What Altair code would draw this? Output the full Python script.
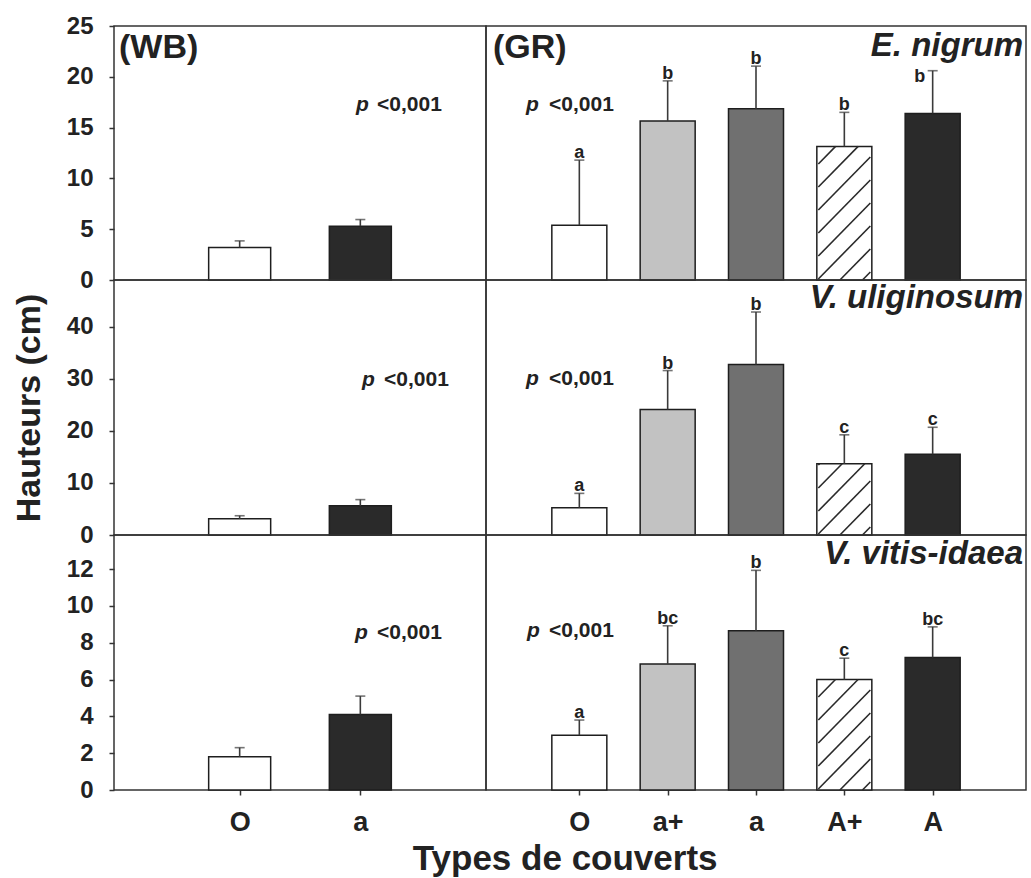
import json
import altair as alt
import pandas as pd

# ---------------- data ----------------
species = ["E. nigrum", "V. uliginosum", "V. vitis-idaea"]
wb_cats = ["O", "a"]
gr_cats = ["O", "a+", "a", "A+", "A"]

wb_mean = [[3.2, 5.3], [3.1, 5.6], [1.8, 4.1]]
wb_err = [[0.65, 0.65], [0.6, 1.2], [0.5, 1.0]]

gr_mean = [[5.4, 15.65, 16.85, 13.15, 16.4],
           [5.25, 24.1, 32.75, 13.7, 15.5],
           [2.98, 6.85, 8.65, 6.0, 7.2]]
gr_err = [[6.4, 3.95, 4.2, 3.35, 4.2],
          [2.75, 7.5, 10.1, 5.55, 5.2],
          [0.82, 2.07, 3.28, 1.16, 1.66]]
gr_letters = [["a", "b", "b", "b", "b"],
              ["a", "b", "b", "c", "c"],
              ["a", "bc", "b", "c", "bc"]]

y_max = [25, 49, 13.85]
y_ticks = [[0, 5, 10, 15, 20, 25], [0, 10, 20, 30, 40], [0, 2, 4, 6, 8, 10, 12]]
site_labels = ["(WB)", "(GR)"]
p_symbol = "p"
p_value = "<0,001"
y_title = "Hauteurs (cm)"
x_title = "Types de couverts"

# ---------------- style ----------------
FONT = "Liberation Sans"
INK = "#222222"
WB_COLORS = ["#ffffff", "#2a2a2a"]
GR_COLORS = ["#ffffff", "#c2c2c2", "#707070", "#ffffff", "#2a2a2a"]
W_LEFT, W_RIGHT = 372, 540
HEIGHTS = [254, 255, 255]
BAR_W = {"wb": 62, "gr": 55}
HATCH_CAT = "A+"
HATCH_SPACING = 23
# letter nudges (row, category index) -> (dx, dy) in pixels
LETTER_NUDGE = {(0, 4): (-13, 11)}

# annotation pixel positions inside panels
P_POS = {"wb": ([242, 248, 241], [263, 270, 263], [79, 100, 98]),
         "gr": ([40, 40, 41], [63, 63, 63], [79, 99, 96])}
SPECIES_Y = [30, 28, 29]


def hatch_df(center, half_px, px_x, px_y, value):
    w = 2 * half_px
    h = value * px_y
    rows = []
    c = -w + 8
    while c < h:
        u0 = max(0.0, -c)
        u1 = min(w, h - c)
        if u1 > u0:
            rows.append({
                "x1": center + (u0 - half_px) / px_x, "y1": (u0 + c) / px_y,
                "x2": center + (u1 - half_px) / px_x, "y2": (u1 + c) / px_y,
            })
        c += HATCH_SPACING
    return pd.DataFrame(rows)


def text_layer(txt, x, y, size, align="left", baseline="middle", style="normal"):
    return alt.Chart(pd.DataFrame({"t": [txt]})).mark_text(
        align=align, baseline=baseline, font=FONT, fontSize=size,
        fontWeight="bold", fontStyle=style, color=INK,
    ).encode(text="t:N", x=alt.value(x), y=alt.value(y))


def panel(row, side):
    if side == "wb":
        cats, means, errs, letters, colors, W = wb_cats, wb_mean[row], wb_err[row], None, WB_COLORS, W_LEFT
    else:
        cats, means, errs, letters, colors, W = gr_cats, gr_mean[row], gr_err[row], gr_letters[row], GR_COLORS, W_RIGHT
    n = len(cats)
    H = HEIGHTS[row]
    df = pd.DataFrame({"pos": list(range(1, n + 1)), "cat": cats, "mean": means, "err": errs})
    df["top"] = df["mean"] + df["err"]
    if letters:
        df["letter"] = letters

    xscale = alt.Scale(domain=[0, n + 1], nice=False, zero=False)
    if row == 2:
        xaxis = alt.Axis(values=list(range(1, n + 1)),
                         labelExpr=json.dumps(cats) + "[datum.value - 1]",
                         labelFont=FONT, labelFontSize=27, labelFontWeight="bold",
                         labelColor=INK, tickSize=5, tickWidth=1.5, tickColor="#333",
                         labelPadding=14, domain=False, grid=False)
    else:
        xaxis = None
    yscale = alt.Scale(domain=[0, y_max[row]], nice=False, zero=True)
    if side == "wb":
        yaxis = alt.Axis(values=y_ticks[row], labelFont=FONT, labelFontSize=24,
                         labelFontWeight="bold", labelColor=INK, tickSize=5,
                         tickWidth=1.5, tickColor="#333", labelPadding=16,
                         domain=False, grid=False, labelOverlap=False,
                         titleFont=FONT, titleFontSize=34, titleFontWeight="bold",
                         titleColor=INK, titlePadding=20)
    else:
        yaxis = None
    ytit = y_title if (side == "wb" and row == 1) else None

    X = alt.X("pos:Q", scale=xscale, axis=xaxis, title=None)

    def Y(field):
        return alt.Y(field, scale=yscale, axis=yaxis, title=ytit)

    base = alt.Chart(df)
    bars = base.mark_bar(size=BAR_W[side], stroke="#1e1e1e", strokeWidth=1.5).encode(
        x=X, y=Y("mean:Q"),
        fill=alt.Fill("cat:N", scale=alt.Scale(domain=cats, range=colors), legend=None),
    )
    layers = [bars]

    if side == "gr":
        k = cats.index(HATCH_CAT)
        px_x = W / (n + 1)
        px_y = H / y_max[row]
        hd = hatch_df(k + 1, BAR_W[side] / 2 - 1, px_x, px_y, means[k])
        hatch = alt.Chart(hd).mark_rule(color="#2a2a2a", strokeWidth=1.6).encode(
            x=alt.X("x1:Q", scale=xscale, axis=xaxis, title=None), x2="x2:Q",
            y=Y("y1:Q"), y2="y2:Q")
        layers.append(hatch)

    err_rule = base.mark_rule(color="#3a3a3a", strokeWidth=1.6).encode(x=X, y=Y("mean:Q"), y2="top:Q")
    caps = base.mark_tick(orient="horizontal", size=10, thickness=1.6, color="#3a3a3a").encode(x=X, y=Y("top:Q"))
    layers += [err_rule, caps]
    if letters:
        normal_idx = [i for i in range(n) if (row, i) not in LETTER_NUDGE]
        lt = alt.Chart(df.iloc[normal_idx]).mark_text(
            baseline="alphabetic", dy=-2, font=FONT, fontSize=18,
            fontWeight="bold", color=INK).encode(x=X, y=Y("top:Q"), text="letter:N")
        layers.append(lt)
        for (rr, i), (ddx, ddy) in LETTER_NUDGE.items():
            if rr == row:
                lt2 = alt.Chart(df.iloc[[i]]).mark_text(
                    baseline="alphabetic", dx=ddx, dy=ddy, font=FONT, fontSize=18,
                    fontWeight="bold", color=INK).encode(x=X, y=Y("top:Q"), text="letter:N")
                layers.append(lt2)

    px, lx, py = P_POS[side]
    layers.append(text_layer(p_symbol, px[row], py[row], 21, style="italic"))
    layers.append(text_layer(p_value, lx[row], py[row], 21))

    if row == 0:
        layers.append(text_layer(site_labels[0 if side == "wb" else 1], 5 if side == "wb" else 7, 22, 34))
    if side == "gr":
        layers.append(text_layer(species[row], W - 3, SPECIES_Y[row], 33, align="right",
                                 baseline="alphabetic", style="italic"))

    return alt.layer(*layers).properties(width=W, height=H)


panels = []
for r in range(3):
    panels.append(panel(r, "wb"))
    panels.append(panel(r, "gr"))

chart = alt.concat(*panels, columns=2, spacing=0, bounds="flush", align="each").resolve_scale(
    x="independent", y="independent", fill="independent"
).properties(
    title=alt.TitleParams(x_title, orient="bottom", anchor="middle", font=FONT, fontSize=35,
                          fontWeight="bold", color=INK, offset=6, dx=46),
    padding={"left": 11, "top": 13, "right": 0, "bottom": 0},
    background="white",
).configure_view(stroke="#333333", strokeWidth=1.5)

chart.save("out.html", embed_options={"renderer": "svg", "actions": False})
